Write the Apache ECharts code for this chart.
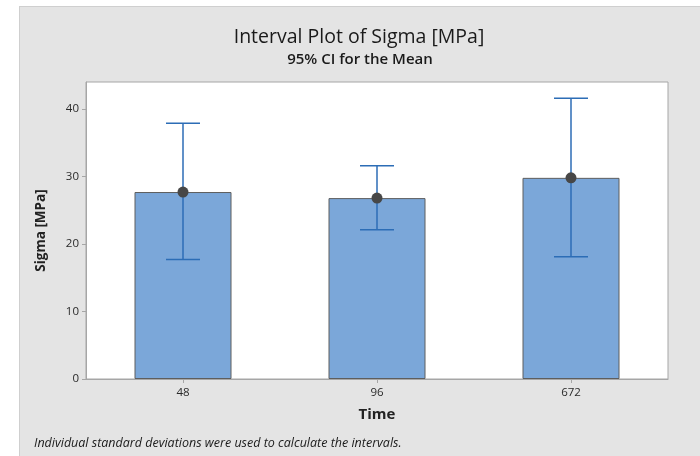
<!DOCTYPE html>
<html>
<head>
<meta charset="utf-8">
<script src="https://cdn.jsdelivr.net/npm/echarts@6/dist/echarts.min.js"></script>
<style>
  html, body { margin: 0; padding: 0; background: #ffffff; }
  #wrap { position: relative; width: 700px; height: 456px; overflow: hidden; }
  #panel { position: absolute; left: 19px; top: 6px; width: 700px; height: 470px;
           background: #e4e4e4; border: 1px solid #cfcfcf; box-sizing: border-box; }
  #chart { position: absolute; left: 0; top: 0; width: 700px; height: 456px; }
</style>
</head>
<body>
<div id="wrap">
  <div id="panel"></div>
  <div id="chart"></div>
</div>
<script>
// Time groups and the interval estimates for Sigma [MPa]
const categories = ['48', '96', '672'];
const means = [27.7, 26.8, 29.8];
const lowerCI = [17.7, 22.1, 18.1];
const upperCI = [37.9, 31.6, 41.6];
const yTicks = [0, 10, 20, 30, 40];

const FONT = '"Open Sans", "Noto Sans", sans-serif';
const chart = echarts.init(document.getElementById('chart'), null, { renderer: 'canvas' });

const intervals = categories.map((c, i) => [i, lowerCI[i], upperCI[i], means[i]]);

chart.setOption({
  backgroundColor: 'transparent',
  animation: false,
  grid: {
    left: 86, right: 32, top: 82, bottom: 77,
    show: true, backgroundColor: '#ffffff', borderColor: '#a6a6a6', borderWidth: 1
  },
  xAxis: {
    type: 'category',
    data: categories,
    name: 'Time',
    nameLocation: 'middle',
    nameGap: 28,
    nameTextStyle: { fontFamily: FONT, fontSize: 15, fontWeight: 'bold', color: '#222' },
    axisLine: { show: true, lineStyle: { color: '#a6a6a6' } },
    axisTick: { show: true, alignWithLabel: true, length: 4, lineStyle: { color: '#a6a6a6' } },
    axisLabel: { fontFamily: FONT, fontSize: 11.5, fontWeight: 500, color: '#2a2a2a', margin: 8 },
    splitLine: { show: false }
  },
  yAxis: {
    type: 'value',
    min: 0, max: 44, interval: 10,
    name: 'Sigma [MPa]',
    nameLocation: 'middle',
    nameGap: 38,
    nameTextStyle: { fontFamily: FONT, fontSize: 13.5, fontWeight: 'bold', color: '#222' },
    axisLine: { show: true, lineStyle: { color: '#a6a6a6' } },
    axisTick: { show: true, length: 4, lineStyle: { color: '#a6a6a6' } },
    axisLabel: {
      fontFamily: FONT, fontSize: 11.5, fontWeight: 500, color: '#2a2a2a', margin: 7,
      showMaxLabel: false,
      formatter: v => (yTicks.indexOf(v) >= 0 ? String(v) : '')
    },
    splitLine: { show: false }
  },
  graphic: [
    { type: 'text', x: 359, y: 37, style: { text: 'Interval Plot of Sigma [MPa]', fontFamily: FONT,
      fontSize: 19.5, fontWeight: 500, fill: '#1a1a1a', align: 'center', verticalAlign: 'middle' } },
    { type: 'text', x: 360, y: 60, style: { text: '95% CI for the Mean', fontFamily: FONT,
      fontSize: 15, fontWeight: 600, fill: '#1a1a1a', align: 'center', verticalAlign: 'middle' } },
    { type: 'text', x: 34, y: 443, style: { text: 'Individual standard deviations were used to calculate the intervals.',
      fontFamily: FONT, fontSize: 12.5, fontStyle: 'italic', fill: '#1a1a1a', verticalAlign: 'middle' } }
  ],
  series: [
    {
      type: 'bar',
      data: means,
      barWidth: '50%',
      itemStyle: { color: '#7ba7d9', borderColor: '#5e5e5e', borderWidth: 1 },
      z: 2
    },
    {
      type: 'custom',
      data: intervals,
      renderItem: function (params, api) {
        const i = api.value(0);
        const lo = api.coord([i, api.value(1)]);
        const hi = api.coord([i, api.value(2)]);
        const mid = api.coord([i, api.value(3)]);
        const half = 17;
        const line = { stroke: '#2c6db6', lineWidth: 1.5 };
        return {
          type: 'group',
          children: [
            { type: 'line', shape: { x1: lo[0], y1: lo[1], x2: hi[0], y2: hi[1] }, style: line },
            { type: 'line', shape: { x1: hi[0] - half, y1: hi[1], x2: hi[0] + half, y2: hi[1] }, style: line },
            { type: 'line', shape: { x1: lo[0] - half, y1: lo[1], x2: lo[0] + half, y2: lo[1] }, style: line },
            { type: 'circle', shape: { cx: mid[0], cy: mid[1], r: 5.5 }, style: { fill: '#474747' } }
          ]
        };
      },
      z: 3
    }
  ]
});
</script>
</body>
</html>
